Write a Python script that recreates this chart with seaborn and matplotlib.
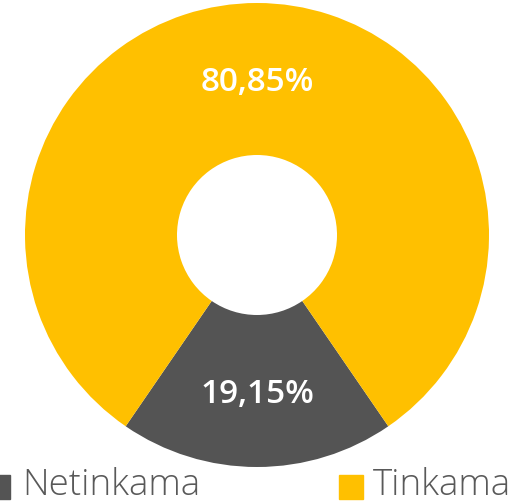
import matplotlib
matplotlib.use("Agg")
import matplotlib.pyplot as plt
import seaborn as sns
import numpy as np
from matplotlib.patches import Rectangle

categories = ["Netinkama", "Tinkama"]
shares = [19.15, 80.85]
value_labels = ["19,15%", "80,85%"]
colors = ["#545454", "#FFC000"]

sns.set_theme(style="white")
plt.rcParams["font.family"] = ["Open Sans", "DejaVu Sans"]

W, H = 529, 501
fig = plt.figure(figsize=(W / 100, H / 100), dpi=100)
cx, cy, r, r_in = 257, 235, 232, 80
ax = fig.add_axes([(cx - r) / W, (H - cy - r) / H, 2 * r / W, 2 * r / H])

palette = sns.color_palette(colors)
start = 270 - shares[0] / 100 * 360 / 2
wedges, _ = ax.pie(shares, colors=palette, startangle=start, counterclock=True,
                   radius=1, wedgeprops=dict(width=1 - r_in / r, linewidth=0))
ax.set_xlim(-1, 1)
ax.set_ylim(-1, 1)
ax.set_aspect("equal")
ax.axis("off")

# value labels in the middle of each ring segment
ring_mid = (1 + r_in / r) / 2
for w, lab in zip(wedges, value_labels):
    ang = np.deg2rad((w.theta1 + w.theta2) / 2)
    ax.text(ring_mid * np.cos(ang), ring_mid * np.sin(ang) - 12 / r, lab,
            ha="center", va="baseline", color="white", fontsize=24, fontweight="semibold")

# legend row along the bottom edge
items = [(-14, 22, categories[0], colors[0]), (339, 373, categories[1], colors[1])]
for sx, tx, name, col in items:
    fig.patches.append(Rectangle((sx / W, (H - 499) / H), 24 / W, 24 / H,
                                 transform=fig.transFigure, color=col, figure=fig))
    fig.text(tx / W, (H - 495) / H, name, ha="left", va="baseline",
             fontsize=26.5, fontweight="light", color="#595959")

fig.savefig("out.png", dpi=100)
